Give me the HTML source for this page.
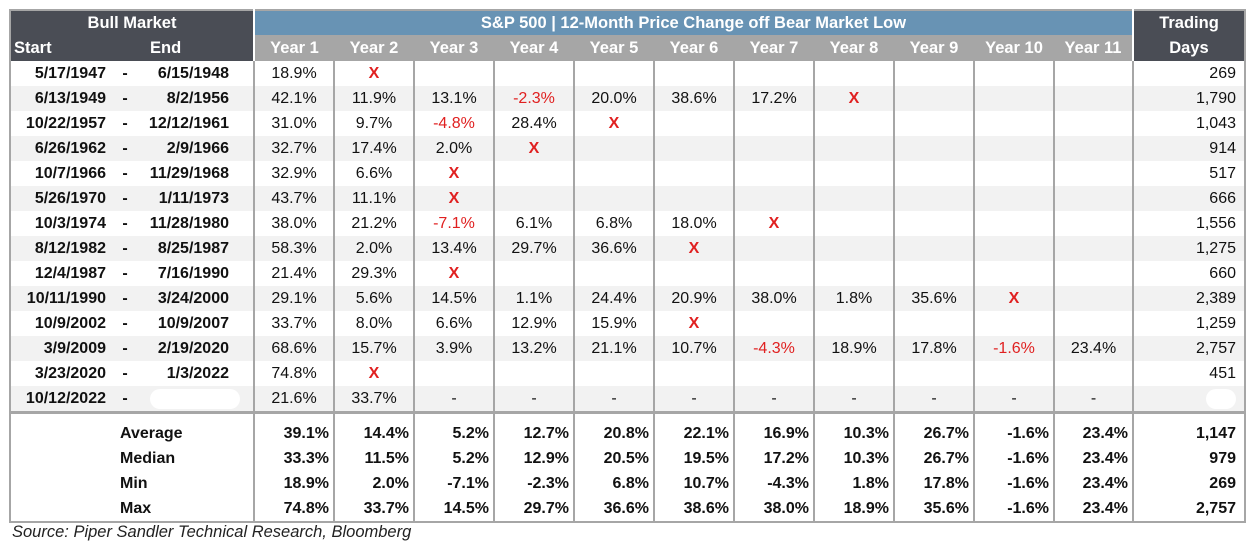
<!DOCTYPE html>
<html><head><meta charset="utf-8"><style>
body{margin:0;background:#fff;width:1255px;height:553px;overflow:hidden;font-family:"Liberation Sans",sans-serif}
table{position:absolute;left:9px;top:9px;border-collapse:collapse;table-layout:fixed;border:2px solid #a6a6a6}
td{padding:0;height:25px;font-size:16px;color:#111;white-space:nowrap;overflow:hidden;line-height:18px}
.h1 td{height:24px;font-weight:bold;color:#fff;font-size:16.5px}
.h2 td{height:26px;font-weight:bold;color:#fff;font-size:16.5px}
.dk{background:#4a4d55}
.bl{background:#6893b4;text-align:center}
.gy{background:#a6a6a6;text-align:center}
.s{text-align:right;font-weight:bold;padding-right:4px}
.d{text-align:center;font-weight:bold}
.e{text-align:right;font-weight:bold;padding-right:24px}
.v{text-align:center;border-left:2px solid #a6a6a6}
.t{text-align:right;padding-right:8px;border-left:2px solid #a6a6a6}
.alt td{background:#f2f2f2}
.r{color:#e02020}
.x{color:#e02020;font-weight:bold}
.sm td{font-weight:bold;height:25px}
.sm .v{text-align:right;padding-right:4px}
.first td{border-top:3px solid #a6a6a6}
.pad td{height:7px}
.pill{display:inline-block;background:#fff;border-radius:10px;height:20px;vertical-align:middle}
.src{position:absolute;left:12px;top:523px;font-style:italic;font-size:16.5px;color:#222}
</style></head><body>
<table>
<colgroup><col style="width:100px"><col style="width:30px"><col style="width:114px">
<col style="width:80px"><col style="width:80px"><col style="width:80px"><col style="width:80px"><col style="width:80px"><col style="width:80px"><col style="width:80px"><col style="width:80px"><col style="width:80px"><col style="width:80px"><col style="width:79px"><col style="width:112px"></colgroup>
<tr class="h1"><td colspan="3" class="dk" style="text-align:center">Bull Market</td><td colspan="11" class="bl" style="border-left:2px solid #fff">S&amp;P 500 | 12-Month Price Change off Bear Market Low</td><td class="dk" style="text-align:center;border-left:2px solid #fff">Trading</td></tr>
<tr class="h2"><td class="dk" style="padding-left:3px">Start</td><td class="dk"></td><td class="dk" style="padding-left:10px">End</td><td class="gy" style="border-left:2px solid #fff">Year 1</td><td class="gy">Year 2</td><td class="gy">Year 3</td><td class="gy">Year 4</td><td class="gy">Year 5</td><td class="gy">Year 6</td><td class="gy">Year 7</td><td class="gy">Year 8</td><td class="gy">Year 9</td><td class="gy">Year 10</td><td class="gy">Year 11</td><td class="dk" style="text-align:center;border-left:2px solid #fff">Days</td></tr>
<tr><td class="s">5/17/1947</td><td class="d">-</td><td class="e">6/15/1948</td><td class="v">18.9%</td><td class="v x">X</td><td class="v"></td><td class="v"></td><td class="v"></td><td class="v"></td><td class="v"></td><td class="v"></td><td class="v"></td><td class="v"></td><td class="v"></td><td class="t">269</td></tr>
<tr class="alt"><td class="s">6/13/1949</td><td class="d">-</td><td class="e">8/2/1956</td><td class="v">42.1%</td><td class="v">11.9%</td><td class="v">13.1%</td><td class="v r">-2.3%</td><td class="v">20.0%</td><td class="v">38.6%</td><td class="v">17.2%</td><td class="v x">X</td><td class="v"></td><td class="v"></td><td class="v"></td><td class="t">1,790</td></tr>
<tr><td class="s">10/22/1957</td><td class="d">-</td><td class="e">12/12/1961</td><td class="v">31.0%</td><td class="v">9.7%</td><td class="v r">-4.8%</td><td class="v">28.4%</td><td class="v x">X</td><td class="v"></td><td class="v"></td><td class="v"></td><td class="v"></td><td class="v"></td><td class="v"></td><td class="t">1,043</td></tr>
<tr class="alt"><td class="s">6/26/1962</td><td class="d">-</td><td class="e">2/9/1966</td><td class="v">32.7%</td><td class="v">17.4%</td><td class="v">2.0%</td><td class="v x">X</td><td class="v"></td><td class="v"></td><td class="v"></td><td class="v"></td><td class="v"></td><td class="v"></td><td class="v"></td><td class="t">914</td></tr>
<tr><td class="s">10/7/1966</td><td class="d">-</td><td class="e">11/29/1968</td><td class="v">32.9%</td><td class="v">6.6%</td><td class="v x">X</td><td class="v"></td><td class="v"></td><td class="v"></td><td class="v"></td><td class="v"></td><td class="v"></td><td class="v"></td><td class="v"></td><td class="t">517</td></tr>
<tr class="alt"><td class="s">5/26/1970</td><td class="d">-</td><td class="e">1/11/1973</td><td class="v">43.7%</td><td class="v">11.1%</td><td class="v x">X</td><td class="v"></td><td class="v"></td><td class="v"></td><td class="v"></td><td class="v"></td><td class="v"></td><td class="v"></td><td class="v"></td><td class="t">666</td></tr>
<tr><td class="s">10/3/1974</td><td class="d">-</td><td class="e">11/28/1980</td><td class="v">38.0%</td><td class="v">21.2%</td><td class="v r">-7.1%</td><td class="v">6.1%</td><td class="v">6.8%</td><td class="v">18.0%</td><td class="v x">X</td><td class="v"></td><td class="v"></td><td class="v"></td><td class="v"></td><td class="t">1,556</td></tr>
<tr class="alt"><td class="s">8/12/1982</td><td class="d">-</td><td class="e">8/25/1987</td><td class="v">58.3%</td><td class="v">2.0%</td><td class="v">13.4%</td><td class="v">29.7%</td><td class="v">36.6%</td><td class="v x">X</td><td class="v"></td><td class="v"></td><td class="v"></td><td class="v"></td><td class="v"></td><td class="t">1,275</td></tr>
<tr><td class="s">12/4/1987</td><td class="d">-</td><td class="e">7/16/1990</td><td class="v">21.4%</td><td class="v">29.3%</td><td class="v x">X</td><td class="v"></td><td class="v"></td><td class="v"></td><td class="v"></td><td class="v"></td><td class="v"></td><td class="v"></td><td class="v"></td><td class="t">660</td></tr>
<tr class="alt"><td class="s">10/11/1990</td><td class="d">-</td><td class="e">3/24/2000</td><td class="v">29.1%</td><td class="v">5.6%</td><td class="v">14.5%</td><td class="v">1.1%</td><td class="v">24.4%</td><td class="v">20.9%</td><td class="v">38.0%</td><td class="v">1.8%</td><td class="v">35.6%</td><td class="v x">X</td><td class="v"></td><td class="t">2,389</td></tr>
<tr><td class="s">10/9/2002</td><td class="d">-</td><td class="e">10/9/2007</td><td class="v">33.7%</td><td class="v">8.0%</td><td class="v">6.6%</td><td class="v">12.9%</td><td class="v">15.9%</td><td class="v x">X</td><td class="v"></td><td class="v"></td><td class="v"></td><td class="v"></td><td class="v"></td><td class="t">1,259</td></tr>
<tr class="alt"><td class="s">3/9/2009</td><td class="d">-</td><td class="e">2/19/2020</td><td class="v">68.6%</td><td class="v">15.7%</td><td class="v">3.9%</td><td class="v">13.2%</td><td class="v">21.1%</td><td class="v">10.7%</td><td class="v r">-4.3%</td><td class="v">18.9%</td><td class="v">17.8%</td><td class="v r">-1.6%</td><td class="v">23.4%</td><td class="t">2,757</td></tr>
<tr><td class="s">3/23/2020</td><td class="d">-</td><td class="e">1/3/2022</td><td class="v">74.8%</td><td class="v x">X</td><td class="v"></td><td class="v"></td><td class="v"></td><td class="v"></td><td class="v"></td><td class="v"></td><td class="v"></td><td class="v"></td><td class="v"></td><td class="t">451</td></tr>
<tr class="alt"><td class="s">10/12/2022</td><td class="d">-</td><td style="padding-left:10px"><span class="pill" style="width:90px"></span></td><td class="v">21.6%</td><td class="v">33.7%</td><td class="v">-</td><td class="v">-</td><td class="v">-</td><td class="v">-</td><td class="v">-</td><td class="v">-</td><td class="v">-</td><td class="v">-</td><td class="v">-</td><td class="t"><span class="pill" style="width:30px"></span></td></tr>
<tr class="pad first"><td colspan="3"></td><td class="v"></td><td class="v"></td><td class="v"></td><td class="v"></td><td class="v"></td><td class="v"></td><td class="v"></td><td class="v"></td><td class="v"></td><td class="v"></td><td class="v"></td><td class="t"></td></tr>
<tr class="sm"><td></td><td colspan="2" style="padding-left:10px">Average</td><td class="v">39.1%</td><td class="v">14.4%</td><td class="v">5.2%</td><td class="v">12.7%</td><td class="v">20.8%</td><td class="v">22.1%</td><td class="v">16.9%</td><td class="v">10.3%</td><td class="v">26.7%</td><td class="v">-1.6%</td><td class="v">23.4%</td><td class="t">1,147</td></tr>
<tr class="sm"><td></td><td colspan="2" style="padding-left:10px">Median</td><td class="v">33.3%</td><td class="v">11.5%</td><td class="v">5.2%</td><td class="v">12.9%</td><td class="v">20.5%</td><td class="v">19.5%</td><td class="v">17.2%</td><td class="v">10.3%</td><td class="v">26.7%</td><td class="v">-1.6%</td><td class="v">23.4%</td><td class="t">979</td></tr>
<tr class="sm"><td></td><td colspan="2" style="padding-left:10px">Min</td><td class="v">18.9%</td><td class="v">2.0%</td><td class="v">-7.1%</td><td class="v">-2.3%</td><td class="v">6.8%</td><td class="v">10.7%</td><td class="v">-4.3%</td><td class="v">1.8%</td><td class="v">17.8%</td><td class="v">-1.6%</td><td class="v">23.4%</td><td class="t">269</td></tr>
<tr class="sm"><td></td><td colspan="2" style="padding-left:10px">Max</td><td class="v">74.8%</td><td class="v">33.7%</td><td class="v">14.5%</td><td class="v">29.7%</td><td class="v">36.6%</td><td class="v">38.6%</td><td class="v">38.0%</td><td class="v">18.9%</td><td class="v">35.6%</td><td class="v">-1.6%</td><td class="v">23.4%</td><td class="t">2,757</td></tr>
</table>
<div class="src">Source: Piper Sandler Technical Research, Bloomberg</div>
</body></html>
